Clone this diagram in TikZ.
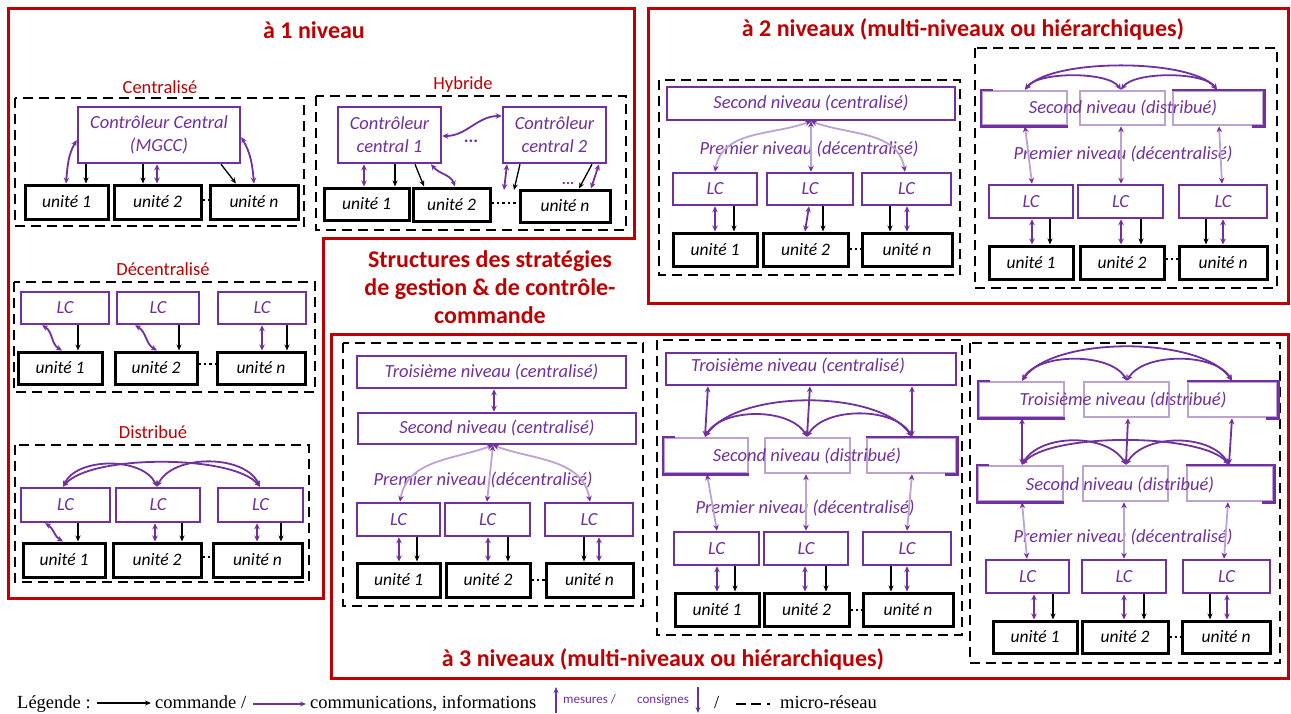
\documentclass[tikz,border=0pt]{standalone}
\usepackage{fontspec}
\setmainfont{Carlito}
\newfontfamily\legfont{Liberation Serif}
\usetikzlibrary{arrows.meta}
\definecolor{pur}{HTML}{7030A0}
\definecolor{rd}{HTML}{C00000}
\colorlet{lpur}{pur!45}
\newcommand\mkbox[7]{\node[#1,minimum width={#5pt-#3pt},minimum height={#6pt-#4pt}] (#2) at ({(#3+#5)/2},{(#4+#6)/2}) {#7};}
\newcommand\dleft[1]{\draw[dedge] ([xshift=12pt]#1.north west) -- (#1.north west) -- (#1.south west) -- (#1.south east);}
\newcommand\dright[1]{\draw[dedge] ([xshift=-12pt]#1.south east) -- (#1.south east) -- (#1.north east) -- (#1.north west);}
\tikzset{
  redframe/.style={draw=rd, line width=3pt},
  mgrid/.style={draw=black, line width=2.6pt, dash pattern=on 10pt off 6pt},
  pbox/.style={draw=pur, line width=2.5pt, text=pur, font=\fontsize{18.5}{23}\selectfont\itshape, inner sep=0pt, align=center},
  dbox/.style={draw=lpur, line width=2.5pt, inner sep=0pt},
  dedge/.style={draw=pur, line width=2.5pt, line join=miter},
  ubox/.style={draw=black, line width=3pt, font=\fontsize{17.5}{21}\selectfont\itshape, inner sep=0pt},
  ptext/.style={text=pur, font=\fontsize{18.5}{23}\selectfont\itshape, inner sep=0pt},
  ttl/.style={text=rd, font=\fontsize{24}{28}\selectfont\bfseries, inner sep=0pt, align=center},
  sublabel/.style={text=rd, font=\fontsize{18.5}{22}\selectfont, inner sep=0pt},
  cmd/.style={draw=black, line width=1.3pt, -{Stealth[length=6pt,width=5pt]}},
  com/.style={draw=pur, line width=1.8pt, {Stealth[length=6pt,width=5.5pt]}-{Stealth[length=6pt,width=5.5pt]}},
  lcom/.style={draw=lpur, line width=1.8pt, {Stealth[length=6pt,width=5.5pt,color=pur]}-{Stealth[length=6pt,width=5.5pt,color=pur]}},
  udots/.style={draw=black, line width=2.4pt, dash pattern=on 2.4pt off 3pt},
  legtext/.style={font=\legfont\fontsize{18.5}{22}\selectfont, inner sep=0pt, anchor=base west},
  legsmall/.style={text=pur, font=\fontsize{13}{15}\selectfont, inner sep=0pt, anchor=base west},
}
\begin{document}
\begin{tikzpicture}[x=1pt,y=-1pt]
\fill[white] (0,0) rectangle (1291,713);
\useasboundingbox (0,0) rectangle (1291,713);

% ================= a 1 niveau =================
\draw[redframe] (8,8) -- (634,8) -- (634,238) -- (323,238) -- (323,598) -- (8,598) -- cycle;
\node[ttl] (t1) at (314,30) {à 1 niveau};

% Centralise
\node[sublabel] (lcen) at (160,87) {Centralisé};
\draw[mgrid] (15,98) rectangle (304,226);
\mkbox{pbox}{mgcc}{78}{107}{240}{163}{Contrôleur Central\\(MGCC)}
\mkbox{ubox}{cu1}{25}{185}{108}{219}{unité 1}
\mkbox{ubox}{cu2}{114}{185}{201}{219}{unité 2}
\mkbox{ubox}{cun}{210}{185}{298}{219}{unité n}
\draw[udots] (cu2.east |- 0,200) -- (cun.west |- 0,200);
\draw[com] (mgcc.west |- 0,140) to[out=240,in=85] (cu1.north -| 66,0);
\draw[cmd] (mgcc.south -| 86,0) -- (cu1.north -| 86,0);
\draw[cmd] (mgcc.south -| 143,0) -- (cu2.north -| 143,0);
\draw[com] (mgcc.south -| 157,0) -- (cu2.north -| 157,0);
\draw[cmd] (mgcc.south -| 221,0) -- (cun.north -| 236,0);
\draw[com] (mgcc.east |- 0,137) to[out=-60,in=95] (cun.north -| 254,0);

% Hybride
\node[sublabel] (lhyb) at (463,85) {Hybride};
\draw[mgrid] (316,96) rectangle (626,230);
\mkbox{pbox}{cc1}{338}{107}{441}{163}{Contrôleur\\central 1}
\mkbox{pbox}{cc2}{503}{107}{606}{163}{Contrôleur\\central 2}
\node[text=pur, font=\fontsize{18}{20}\selectfont\bfseries, inner sep=0pt] (hdots) at (471,141) {...};
\draw[com] (cc1.east |- 0,136) to[out=0,in=180] (cc2.west |- 0,116);
\mkbox{ubox}{hu1}{324}{188}{409}{220}{unité 1}
\mkbox{ubox}{hu2}{413}{188}{490}{221}{unité 2}
\mkbox{ubox}{hun}{520}{190}{610}{222}{unité n}
\draw[udots] (hu2.east |- 0,203) -- (hun.west |- 0,203);
\coordinate (hgap) at (505,190);
\draw[com] (cc1.south -| 364,0) -- (hu1.north -| 364,0);
\draw[cmd] (cc1.south -| 395,0) -- (hu1.north -| 395,0);
\draw[cmd] (cc1.south -| 415,0) -- (hu2.north -| 424,0);
\draw[com] (cc1.south -| 431,0) to[out=-50,in=110] (hu2.north -| 455,0);
\draw[com] (cc2.south -| 507,0) -- (hgap -| 504,0);
\draw[cmd] (cc2.south -| 520,0) -- (hgap -| 514,0);
\draw[cmd] (cc2.south -| 592,0) -- (hun.north -| 579,0);
\draw[com] (cc2.south -| 599,0) -- (hun.north -| 591,0);
\node[text=pur, font=\fontsize{15}{17}\selectfont\bfseries, inner sep=0pt] (hdots2) at (568,183) {...};

% Decentralise
\node[sublabel] (ldec) at (163,269) {Décentralisé};
\draw[mgrid] (14,282) rectangle (315,392);
\mkbox{pbox}{dl1}{21}{292}{109}{324}{LC}
\mkbox{pbox}{dl2}{117}{292}{199}{324}{LC}
\mkbox{pbox}{dl3}{218}{292}{306}{324}{LC}
\mkbox{ubox}{du1}{18}{352}{102}{384}{unité 1}
\mkbox{ubox}{du2}{115}{352}{197}{384}{unité 2}
\mkbox{ubox}{dun}{217}{352}{305}{384}{unité n}
\draw[udots] (du2.east |- 0,364) -- (dun.west |- 0,364);
\draw[com] (dl1.south -| 42,0) to[out=-30,in=150] (du1.north -| 62,0);
\draw[cmd] (dl1.south -| 78,0) -- (du1.north -| 78,0);
\draw[com] (dl2.south -| 135,0) to[out=-30,in=150] (du2.north -| 157,0);
\draw[cmd] (dl2.south -| 179,0) -- (du2.north -| 179,0);
\draw[com] (dl3.south -| 262,0) -- (dun.north -| 262,0);
\draw[cmd] (dl3.south -| 287,0) -- (dun.north -| 287,0);

% Distribue
\node[sublabel] (ldis) at (153,432) {Distribué};
\draw[mgrid] (15,445) rectangle (309,582);
\mkbox{pbox}{sl1}{21}{488}{110}{522}{LC}
\mkbox{pbox}{sl2}{116}{488}{200}{522}{LC}
\mkbox{pbox}{sl3}{218}{488}{303}{522}{LC}
\mkbox{ubox}{su1}{23}{543}{105}{577}{unité 1}
\mkbox{ubox}{su2}{113}{543}{201}{577}{unité 2}
\mkbox{ubox}{sun}{213}{543}{302}{577}{unité n}
\draw[udots] (su2.east |- 0,557) -- (sun.west |- 0,557);
\draw[com] (sl1.north -| 63,0) to[out=65,in=115,looseness=0.9] (sl2.north -| 157,0);
\draw[com] (sl1.north -| 63,0) to[out=50,in=130,looseness=0.55] (sl3.north -| 260,0);
\draw[com] (sl2.north -| 157,0) to[out=65,in=115,looseness=0.9] (sl3.north -| 260,0);
\draw[com] (sl1.south -| 45,0) to[out=-30,in=150] (su1.north -| 63,0);
\draw[cmd] (sl1.south -| 78,0) -- (su1.north -| 78,0);
\draw[com] (sl2.south -| 155,0) -- (su2.north -| 155,0);
\draw[cmd] (sl2.south -| 182,0) -- (su2.north -| 182,0);
\draw[com] (sl3.south -| 257,0) -- (sun.north -| 257,0);
\draw[cmd] (sl3.south -| 281,0) -- (sun.north -| 281,0);

% central title
\node[ttl] (tmain) at (490,287) {Structures des stratégies\\de gestion \& de contrôle-\\commande};

% ================= a 2 niveaux =================
\draw[redframe] (648,8) rectangle (1288,303);
\node[ttl] (t2) at (963,29) {à 2 niveaux (multi-niveaux ou hiérarchiques)};

\draw[mgrid] (659,80) rectangle (960,275);
\mkbox{pbox}{asn}{667}{87}{955}{120}{Second niveau (centralisé)}
\node[ptext] (apn) at (809,149) {Premier niveau (décentralisé)};
\mkbox{pbox}{al1}{673}{173}{757}{205}{LC}
\mkbox{pbox}{al2}{767}{173}{853}{205}{LC}
\mkbox{pbox}{al3}{862}{173}{951}{205}{LC}
\mkbox{ubox}{au1}{673}{233}{757}{266}{unité 1}
\mkbox{ubox}{au2}{763}{233}{848}{266}{unité 2}
\mkbox{ubox}{aun}{862}{233}{952}{266}{unité n}
\draw[udots] (au2.east |- 0,249) -- (aun.west |- 0,249);
\draw[lcom] (asn.south -| 811,0) to[out=200,in=80] (al1.north -| 715,0);
\draw[lcom] (asn.south -| 811,0) -- (al2.north -| 811,0);
\draw[lcom] (asn.south -| 811,0) to[out=-20,in=100] (al3.north -| 905,0);
\draw[com] (al1.south -| 715,0) -- (au1.north -| 715,0);
\draw[cmd] (al1.south -| 734,0) -- (au1.north -| 734,0);
\draw[com] (al2.south -| 809,0) -- (au2.north -| 805,0);
\draw[cmd] (al2.south -| 823,0) -- (au2.north -| 823,0);
\draw[cmd] (al3.south -| 890,0) -- (aun.north -| 890,0);
\draw[com] (al3.south -| 907,0) -- (aun.north -| 907,0);

\draw[mgrid] (975,48) rectangle (1277,288);
\mkbox{dbox}{bsa}{982}{91}{1067}{125}{}
\mkbox{dbox}{bsb}{1080}{91}{1165}{125}{}
\mkbox{dbox}{bsc}{1173}{91}{1263}{125}{}
\dleft{bsa}
\dright{bsc}
\node[ptext] (bst) at (1123,108) {Second niveau (distribué)};
\draw[com] (bsa.north -| 1025,0) to[out=55,in=125,looseness=0.6] (bsb.north -| 1121,0);
\draw[com] (bsa.north -| 1025,0) to[out=50,in=130,looseness=0.55] (bsc.north -| 1217,0);
\draw[com] (bsb.north -| 1121,0) to[out=55,in=125,looseness=0.6] (bsc.north -| 1217,0);
\node[ptext] (bpn) at (1123,154) {Premier niveau (décentralisé)};
\mkbox{pbox}{bl1}{989}{185}{1073}{218}{LC}
\mkbox{pbox}{bl2}{1078}{185}{1163}{218}{LC}
\mkbox{pbox}{bl3}{1179}{185}{1267}{218}{LC}
\draw[lcom] (bsa.south -| 1025,0) -- (bl1.north -| 1032,0);
\draw[lcom] (bsb.south -| 1121,0) -- (bl2.north -| 1121,0);
\draw[lcom] (bsc.south -| 1219,0) -- (bl3.north -| 1222,0);
\mkbox{ubox}{bu1}{989}{246}{1073}{279}{unité 1}
\mkbox{ubox}{bu2}{1080}{246}{1164}{279}{unité 2}
\mkbox{ubox}{bun}{1179}{246}{1267}{279}{unité n}
\draw[udots] (bu2.east |- 0,259) -- (bun.west |- 0,259);
\draw[com] (bl1.south -| 1032,0) -- (bu1.north -| 1032,0);
\draw[cmd] (bl1.south -| 1050,0) -- (bu1.north -| 1050,0);
\draw[com] (bl2.south -| 1121,0) -- (bu2.north -| 1121,0);
\draw[cmd] (bl2.south -| 1141,0) -- (bu2.north -| 1141,0);
\draw[cmd] (bl3.south -| 1206,0) -- (bun.north -| 1206,0);
\draw[com] (bl3.south -| 1223,0) -- (bun.north -| 1223,0);

% ================= a 3 niveaux =================
\draw[redframe] (331,334) rectangle (1288,678);
\node[ttl] (t3) at (663,659) {à 3 niveaux (multi-niveaux ou hiérarchiques)};

% left group
\draw[mgrid] (343,343) rectangle (643,606);
\mkbox{pbox}{pt}{357}{356}{626}{388}{Troisième niveau (centralisé)}
\mkbox{pbox}{ps}{358}{413}{636}{444}{Second niveau (centralisé)}
\draw[com] (pt.south -| 494,0) -- (ps.north -| 494,0);
\node[ptext] (ppn) at (483,480) {Premier niveau (décentralisé)};
\mkbox{pbox}{pl1}{357}{503}{440}{536}{LC}
\mkbox{pbox}{pl2}{445}{503}{530}{536}{LC}
\mkbox{pbox}{pl3}{545}{503}{633}{536}{LC}
\mkbox{ubox}{pu1}{357}{563}{440}{597}{unité 1}
\mkbox{ubox}{pu2}{446}{563}{530}{597}{unité 2}
\mkbox{ubox}{pun}{546}{563}{633}{597}{unité n}
\draw[udots] (pu2.east |- 0,580) -- (pun.west |- 0,580);
\draw[lcom] (ps.south -| 493,0) to[out=200,in=80] (pl1.north -| 400,0);
\draw[lcom] (ps.south -| 493,0) -- (pl2.north -| 487,0);
\draw[lcom] (ps.south -| 493,0) to[out=-20,in=100] (pl3.north -| 590,0);
\draw[com] (pl1.south -| 399,0) -- (pu1.north -| 399,0);
\draw[cmd] (pl1.south -| 417,0) -- (pu1.north -| 417,0);
\draw[com] (pl2.south -| 488,0) -- (pu2.north -| 488,0);
\draw[cmd] (pl2.south -| 508,0) -- (pu2.north -| 508,0);
\draw[cmd] (pl3.south -| 584,0) -- (pun.north -| 584,0);
\draw[com] (pl3.south -| 599,0) -- (pun.north -| 599,0);

% middle group
\draw[mgrid] (657,340) rectangle (962,635);
\mkbox{pbox}{qt}{666}{353}{956}{385}{}
\node[ptext] (qtt) at (798,366) {Troisième niveau (centralisé)};
\mkbox{dbox}{qsa}{664}{438}{748}{473}{}
\mkbox{dbox}{qsb}{765}{438}{850}{473}{}
\mkbox{dbox}{qsc}{867}{438}{956}{473}{}
\dleft{qsa}
\dright{qsc}
\node[ptext] (qst) at (807,456) {Second niveau (distribué)};
\draw[com] (qt.south -| 708,0) -- (qsa.north -| 705,0);
\draw[com] (qt.south -| 810,0) -- (qsb.north -| 807,0);
\draw[com] (qt.south -| 912,0) -- (qsc.north -| 912,0);
\draw[com] (qsa.north -| 705,0) to[out=60,in=120,looseness=0.85] (qsb.north -| 807,0);
\draw[com] (qsa.north -| 705,0) to[out=55,in=125,looseness=0.72] (qsc.north -| 912,0);
\draw[com] (qsb.north -| 807,0) to[out=60,in=120,looseness=0.85] (qsc.north -| 912,0);
\node[ptext] (qpn) at (805,508) {Premier niveau (décentralisé)};
\mkbox{pbox}{ql1}{674}{532}{759}{565}{LC}
\mkbox{pbox}{ql2}{764}{532}{848}{565}{LC}
\mkbox{pbox}{ql3}{863}{532}{951}{565}{LC}
\draw[lcom] (qsa.south -| 707,0) -- (ql1.north -| 717,0);
\draw[lcom] (qsb.south -| 806,0) -- (ql2.north -| 806,0);
\draw[lcom] (qsc.south -| 912,0) -- (ql3.north -| 907,0);
\mkbox{ubox}{qu1}{675}{593}{759}{626}{unité 1}
\mkbox{ubox}{qu2}{764}{593}{849}{626}{unité 2}
\mkbox{ubox}{qun}{863}{593}{953}{626}{unité n}
\draw[udots] (qu2.east |- 0,610) -- (qun.west |- 0,610);
\draw[com] (ql1.south -| 717,0) -- (qu1.north -| 717,0);
\draw[cmd] (ql1.south -| 735,0) -- (qu1.north -| 735,0);
\draw[com] (ql2.south -| 805,0) -- (qu2.north -| 805,0);
\draw[cmd] (ql2.south -| 826,0) -- (qu2.north -| 826,0);
\draw[cmd] (ql3.south -| 891,0) -- (qun.north -| 891,0);
\draw[com] (ql3.south -| 907,0) -- (qun.north -| 907,0);

% right group
\draw[mgrid] (970,343) rectangle (1280,663);
\mkbox{dbox}{rta}{979}{382}{1064}{417}{}
\mkbox{dbox}{rtb}{1084}{382}{1169}{417}{}
\mkbox{dbox}{rtc}{1188}{382}{1277}{417}{}
\dleft{rta}
\dright{rtc}
\node[ptext] (rtt) at (1123,400) {Troisième niveau (distribué)};
\draw[com] (rta.north -| 1022,0) to[out=60,in=120,looseness=0.8] (rtb.north -| 1127,0);
\draw[com] (rta.north -| 1022,0) to[out=55,in=125,looseness=0.67] (rtc.north -| 1232,0);
\draw[com] (rtb.north -| 1127,0) to[out=60,in=120,looseness=0.8] (rtc.north -| 1232,0);
\mkbox{dbox}{rsa}{978}{466}{1063}{501}{}
\mkbox{dbox}{rsb}{1083}{466}{1168}{501}{}
\mkbox{dbox}{rsc}{1187}{466}{1273}{501}{}
\dleft{rsa}
\dright{rsc}
\node[ptext] (rst) at (1120,485) {Second niveau (distribué)};
\draw[com] (rta.south -| 1022,0) -- (rsa.north -| 1022,0);
\draw[com] (rtb.south -| 1128,0) -- (rsb.north -| 1126,0);
\draw[com] (rtc.south -| 1232,0) -- (rsc.north -| 1229,0);
\draw[com] (rsa.north -| 1022,0) to[out=60,in=120,looseness=0.9] (rsb.north -| 1126,0);
\draw[com] (rsa.north -| 1022,0) to[out=50,in=130,looseness=0.52] (rsc.north -| 1229,0);
\draw[com] (rsb.north -| 1126,0) to[out=60,in=120,looseness=0.9] (rsc.north -| 1229,0);
\node[ptext] (rpn) at (1123,537) {Premier niveau (décentralisé)};
\mkbox{pbox}{rl1}{986}{560}{1069}{593}{LC}
\mkbox{pbox}{rl2}{1082}{560}{1166}{593}{LC}
\mkbox{pbox}{rl3}{1183}{560}{1270}{593}{LC}
\draw[lcom] (rsa.south -| 1022,0) -- (rl1.north -| 1027,0);
\draw[lcom] (rsb.south -| 1124,0) -- (rl2.north -| 1124,0);
\draw[lcom] (rsc.south -| 1228,0) -- (rl3.north -| 1224,0);
\mkbox{ubox}{ru1}{993}{621}{1077}{653}{unité 1}
\mkbox{ubox}{ru2}{1082}{621}{1168}{653}{unité 2}
\mkbox{ubox}{run}{1182}{621}{1270}{653}{unité n}
\draw[udots] (ru2.east |- 0,637) -- (run.west |- 0,637);
\draw[com] (rl1.south -| 1034,0) -- (ru1.north -| 1034,0);
\draw[cmd] (rl1.south -| 1053,0) -- (ru1.north -| 1053,0);
\draw[com] (rl2.south -| 1124,0) -- (ru2.north -| 1124,0);
\draw[cmd] (rl2.south -| 1144,0) -- (ru2.north -| 1144,0);
\draw[cmd] (rl3.south -| 1210,0) -- (run.north -| 1210,0);
\draw[com] (rl3.south -| 1227,0) -- (run.north -| 1227,0);

% ================= legend =================
\node[legtext] (lg0) at (17,708) {Légende :};
\coordinate (lga) at (97,703);
\coordinate (lgb) at (151,703);
\draw[cmd, line width=1.5pt] (lga) -- (lgb);
\node[legtext] (lg1) at (155,708) {commande /};
\coordinate (lgc) at (253,704);
\coordinate (lgd) at (306,704);
\draw[draw=pur, line width=1.8pt, -{Stealth[length=6pt,width=5pt]}] (lgc) -- (lgd);
\node[legtext] (lg2) at (310,708) {communications, informations};
\coordinate (lge) at (556,713);
\coordinate (lgf) at (556,687);
\draw[draw=pur, line width=1.5pt, -{Stealth[length=6pt,width=5pt]}] (lge) -- (lgf);
\node[legsmall] (lg3) at (563,703) {mesures /};
\node[legsmall] (lg4) at (637,703) {consignes};
\coordinate (lgg) at (698,687);
\coordinate (lgh) at (698,713);
\draw[draw=pur, line width=1.5pt, -{Stealth[length=6pt,width=5pt]}] (lgg) -- (lgh);
\node[legtext] (lg5) at (714,708) {/};
\coordinate (lgi) at (736,704);
\coordinate (lgj) at (773,704);
\draw[draw=black, line width=2.6pt, dash pattern=on 10pt off 5pt on 10pt off 6pt on 2.5pt off 30pt] (lgi) -- (lgj);
\node[legtext] (lg6) at (780,708) {micro-réseau};
\end{tikzpicture}
\end{document}
